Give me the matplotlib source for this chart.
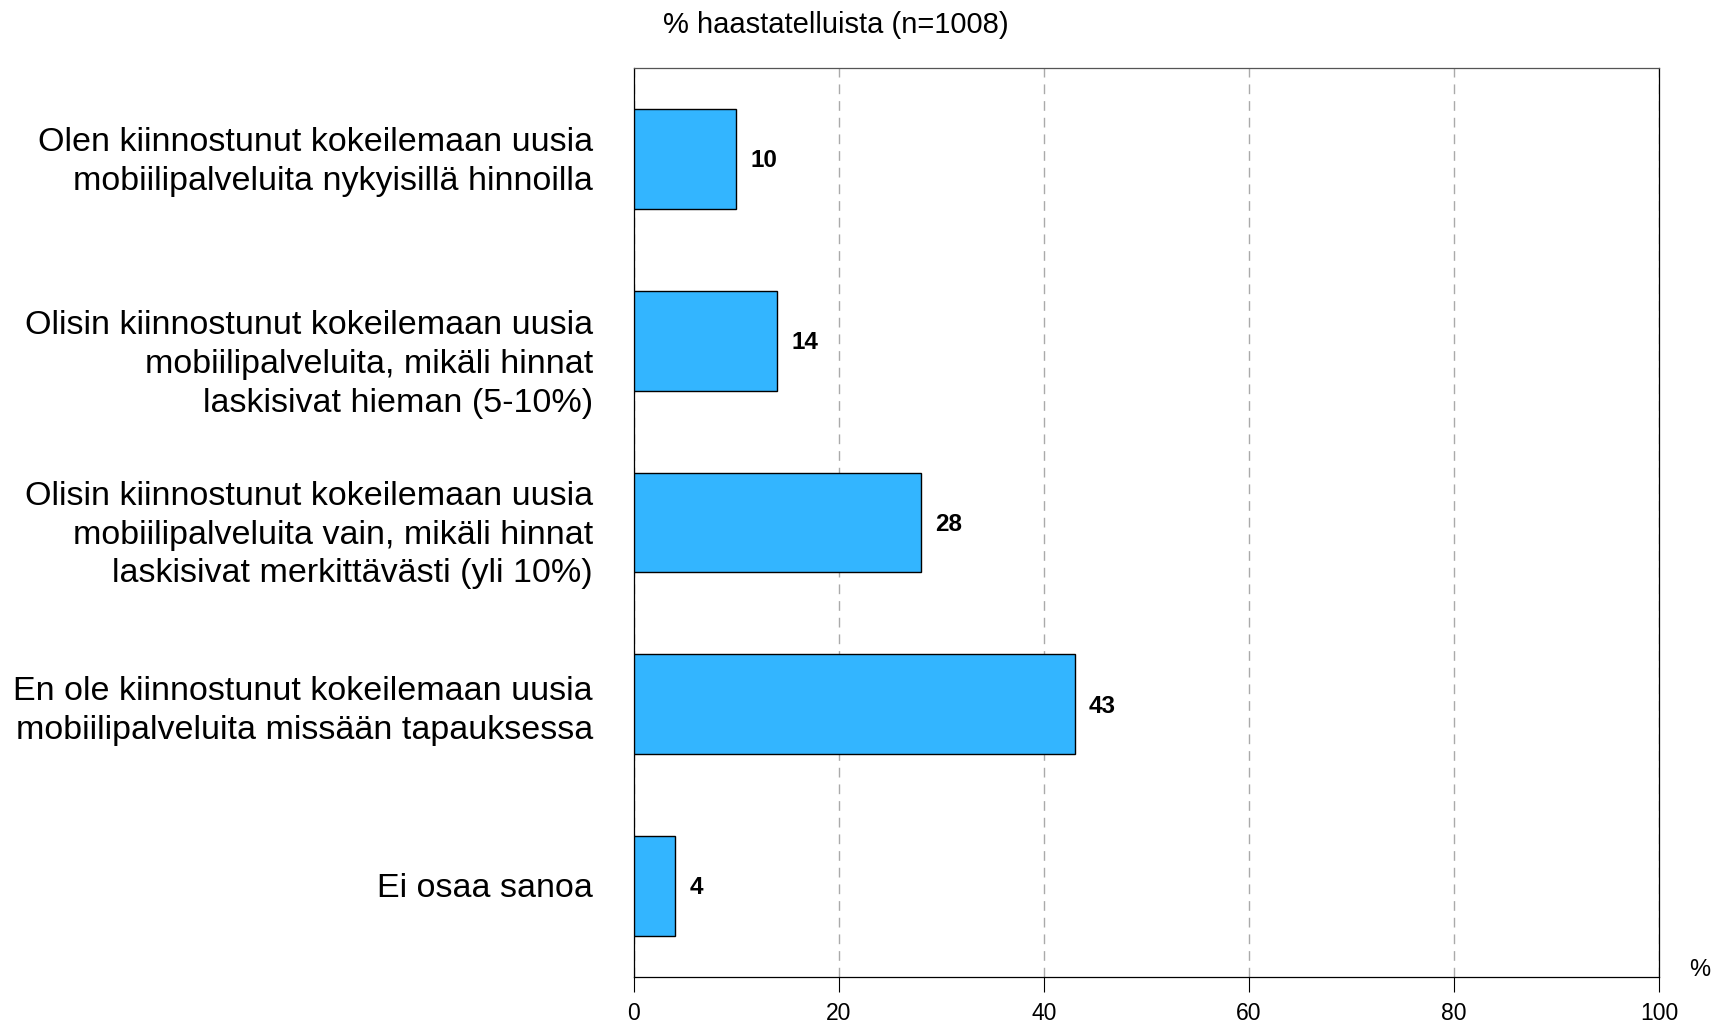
import matplotlib
matplotlib.use("Agg")
import matplotlib.pyplot as plt
import numpy as np

plt.rcParams['font.family'] = ['Liberation Sans', 'DejaVu Sans']

# categories top to bottom
categories = [
    "Olen kiinnostunut kokeilemaan uusia\nmobiilipalveluita nykyisillä hinnoilla",
    "Olisin kiinnostunut kokeilemaan uusia\nmobiilipalveluita, mikäli hinnat\nlaskisivat hieman (5-10%)",
    "Olisin kiinnostunut kokeilemaan uusia\nmobiilipalveluita vain, mikäli hinnat\nlaskisivat merkittävästi (yli 10%)",
    "En ole kiinnostunut kokeilemaan uusia\nmobiilipalveluita missään tapauksessa",
    "Ei osaa sanoa",
]
values = [10, 14, 28, 43, 4]
x_ticks = [0, 20, 40, 60, 80, 100]
title = "% haastatelluista (n=1008)"

# the original labels sit a little below their bars in places
label_shift = [0.018, 0.132, 0.069, 0.039, 0.012]

fig = plt.figure(figsize=(17.15, 10.24), dpi=100)
ax = fig.add_axes([634 / 1715, 47 / 1024, (1659 - 634) / 1715, (977 - 68) / 1024])

pos = np.arange(len(categories))
ax.barh(pos, values, height=0.55, color='#33b5ff', edgecolor='black', linewidth=1.0, zorder=3)

for p, v in zip(pos, values):
    ax.text(v + 1.4, p + 0.01, str(v), va='center', ha='left', fontsize=17.5, fontweight='bold', zorder=4)

ytrans = ax.get_yaxis_transform()
for p, lab, dy in zip(pos, categories, label_shift):
    ax.text(-0.04, p + dy, lab, transform=ytrans, ha='right', va='center',
            multialignment='right', fontsize=24.5, linespacing=1.33)

ax.set_xlim(0, 100)
ax.set_ylim(len(categories) - 0.5, -0.5)
ax.set_xticks(x_ticks)
ax.set_xticklabels([str(t) for t in x_ticks], fontsize=16.5)
ax.tick_params(axis='x', direction='out', length=11, width=0.8, pad=7)
ax.set_yticks([])

ax.xaxis.grid(True, linestyle=(0, (7, 5)), color='#aaaaaa', linewidth=1.0, zorder=0)
ax.set_axisbelow(True)

ax.spines['top'].set_color('#555555')
for s in ['left', 'right', 'bottom']:
    ax.spines[s].set_color('black')
for s in ax.spines.values():
    s.set_linewidth(0.9)

fig.text(663 / 1715, 1 - 25 / 1024, title, fontsize=21, ha='left', va='center')
fig.text(1700 / 1715, 1 - 970 / 1024, "%", fontsize=17, ha='center', va='center')

fig.savefig("out.png", dpi=100)
